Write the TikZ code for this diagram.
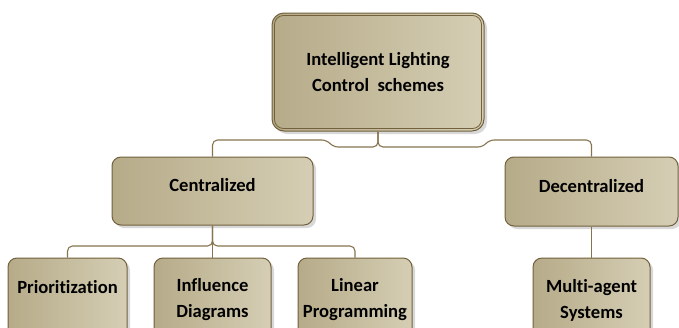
\documentclass[tikz,border=0pt]{standalone}
\usepackage{fontspec}
\setmainfont{Carlito}[Ligatures=NoCommon]
\usetikzlibrary{shadows}
\definecolor{tanA}{HTML}{B6AB89}
\definecolor{tanB}{HTML}{D5CEB4}
\definecolor{edgecol}{HTML}{72613C}
\definecolor{wire}{HTML}{85744E}
\begin{document}
\begin{tikzpicture}[x=1pt,y=-1pt,
  box/.style={draw=edgecol, line width=1pt, rounded corners=9pt,
    left color=tanA, right color=tanB, align=center,
    font=\bfseries\fontsize{18.6}{26}\selectfont, text=black, inner sep=0pt,
    drop shadow={shadow xshift=3pt, shadow yshift=-3pt, fill=black!30, opacity=0.5}},
  conn/.style={draw=wire, line width=1.1pt, rounded corners=5pt}]
\useasboundingbox (0,0) rectangle (679,327);
\clip (0,0) rectangle (679,327);
\node[box, rounded corners=12pt, minimum width=212pt, minimum height=118pt] (top) at (378,72) {Intelligent Lighting\\Control\ \ schemes};
\draw[edgecol, line width=0.8pt, rounded corners=9pt] ([shift={(3,3)}]top.north west) rectangle ([shift={(-3,-3)}]top.south east);
\node[box, minimum width=201pt, minimum height=68pt, text depth=12pt] (cen) at (212.5,191) {Centralized};
\node[box, minimum width=173pt, minimum height=69pt, text depth=12pt] (dec) at (591.5,191.5) {Decentralized};
\node[box, minimum width=119pt, minimum height=84pt, text depth=26pt] (pri) at (67.5,300) {Prioritization};
\node[box, minimum width=117pt, minimum height=84pt] (inf) at (212.5,300) {Influence\\Diagrams};
\node[box, minimum width=114pt, minimum height=84pt] (lin) at (355,300) {Linear\\Programming};
\node[box, minimum width=117pt, minimum height=84pt] (mas) at (591.5,300) {Multi-agent\\Systems};
\draw[conn] (cen.north) |- (327,140) -- (333,147) -| (top.south);
\draw[conn] (dec.north) |- (489,140) -- (483,147) -| (top.south);
\draw[conn] (pri.north) |- (212.5,246) -- (cen.south);
\draw[conn] (lin.north) |- (212.5,246) -- (cen.south);
\draw[conn] (cen.south) -- (inf.north);
\draw[conn] (dec.south) -- (mas.north);
\end{tikzpicture}
\end{document}
